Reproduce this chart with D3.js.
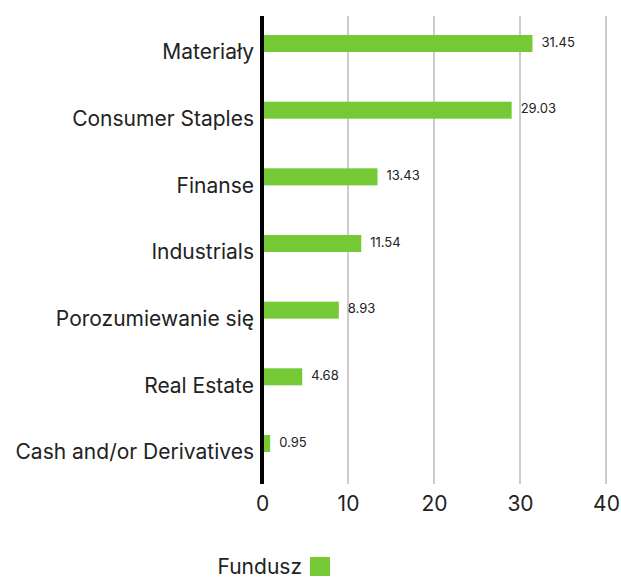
<!DOCTYPE html>
<html>
<head>
<meta charset="utf-8">
<script src="https://cdn.jsdelivr.net/npm/d3@7"></script>
<style>
  body { margin: 0; background: #fff; }
  text { font-family: Inter, "Open Sans", sans-serif; fill: #222; }
</style>
</head>
<body>
<div id="chart"></div>
<script>
// data
const categories = ['Materiały', 'Consumer Staples', 'Finanse', 'Industrials',
    'Porozumiewanie się', 'Real Estate', 'Cash and/or Derivatives'];
const fundValues = [31.45, 29.03, 13.43, 11.54, 8.93, 4.68, 0.95];
const xTicks = [0, 10, 20, 30, 40];
const seriesName = 'Fundusz';

const width = 621;
const height = 578;
const barColor = '#74c935';

const svg = d3.select('#chart')
    .append('svg')
    .attr('width', width)
    .attr('height', height);

const xScale = d3.scaleLinear().domain([0, 40]).range([262, 606]);
const yScale = d3.scaleBand().domain(categories).range([18.7, 485.3]);

// grid lines
svg.append('g')
    .selectAll('line')
    .data(xTicks.slice(1))
    .enter()
    .append('line')
    .attr('x1', d => xScale(d))
    .attr('x2', d => xScale(d))
    .attr('y1', 16)
    .attr('y2', 484)
    .attr('stroke', '#cccccc')
    .attr('stroke-width', 2);

// x tick labels
const xAxis = d3.axisBottom(xScale).tickValues(xTicks).tickSize(0).tickPadding(12);
const xAxisGroup = svg.append('g')
    .attr('transform', 'translate(0,484)')
    .call(xAxis);
xAxisGroup.select('.domain').remove();
xAxisGroup.selectAll('text')
    .style('font-family', 'Inter, sans-serif')
    .style('font-size', '21px')
    .attr('fill', '#222');

// category labels
const yAxis = d3.axisLeft(yScale).tickSize(0).tickPadding(8);
const yAxisGroup = svg.append('g')
    .attr('transform', 'translate(262,0)')
    .call(yAxis);
yAxisGroup.select('.domain').remove();
yAxisGroup.selectAll('text')
    .style('font-family', 'Inter, sans-serif')
    .style('font-size', '21px')
    .attr('fill', '#222')
    .attr('dy', '0.35em')
    .attr('y', 0);

const rows = categories.map((c, i) => [c, fundValues[i]]);

// bars
svg.append('g')
    .selectAll('rect')
    .data(rows)
    .enter()
    .append('rect')
    .attr('x', xScale(0))
    .attr('y', d => yScale(d[0]) + yScale.bandwidth() / 2 - 17)
    .attr('width', d => xScale(d[1]) - xScale(0))
    .attr('height', 17)
    .attr('fill', barColor);

// value labels
svg.append('g')
    .selectAll('text')
    .data(rows)
    .enter()
    .append('text')
    .attr('x', d => xScale(d[1]) + 9)
    .attr('y', d => yScale(d[0]) + yScale.bandwidth() / 2 - 10)
    .attr('dy', '0.35em')
    .style('font-size', '13px')
    .text(d => d[1].toFixed(2));

// zero axis line
svg.append('line')
    .attr('x1', xScale(0))
    .attr('x2', xScale(0))
    .attr('y1', 16)
    .attr('y2', 484)
    .attr('stroke', '#000')
    .attr('stroke-width', 4);

// legend
const legend = svg.append('g');
legend.append('text')
    .attr('x', 302)
    .attr('y', 567)
    .attr('dy', '0.35em')
    .attr('text-anchor', 'end')
    .style('font-size', '21px')
    .text(seriesName);
legend.append('rect')
    .attr('x', 310)
    .attr('y', 557)
    .attr('width', 20)
    .attr('height', 19)
    .attr('fill', barColor);
</script>
</body>
</html>
